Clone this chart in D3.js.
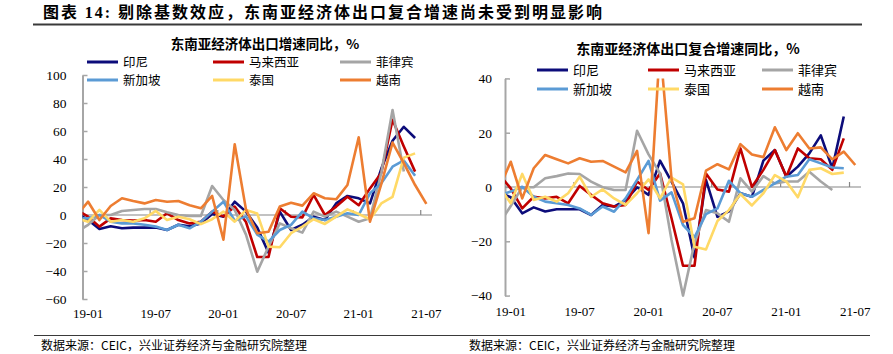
<!DOCTYPE html>
<html>
<head>
<meta charset="utf-8">
<script src="https://cdn.jsdelivr.net/npm/d3@7/dist/d3.min.js"></script>
<style>
  body { margin: 0; background: #fff; }
  svg text { font-family: "Liberation Serif", "Times New Roman", serif; fill: #000; }
  svg .cjk { font-family: "Noto Sans CJK SC", sans-serif; }
</style>
</head>
<body>
<div id="chart"></div>
<script>
// months on the x axis; 18-12 sits left of the axis and is clipped away
const MONTHS = ["18-12",
  "19-01","19-02","19-03","19-04","19-05","19-06","19-07","19-08","19-09","19-10","19-11","19-12",
  "20-01","20-02","20-03","20-04","20-05","20-06","20-07","20-08","20-09","20-10","20-11","20-12",
  "21-01","21-02","21-03","21-04","21-05","21-06","21-07"];
const X_TICKS = ["19-01","19-07","20-01","20-07","21-01","21-07"];

const NAMES  = ["印尼", "马来西亚", "菲律宾", "新加坡", "泰国", "越南"];
const COLORS = ["#0c0c7a", "#c00000", "#a5a5a5", "#5b9bd5", "#ffd966", "#ed7d31"];

// left: export growth yoy, %
const YOY_IDN = [1.2, -3.6, -10, -8, -9.5, -9, -9, -9, -10.7, -7, -8, -6, 0.7, -1.2, 9.5, 2.4, -9, -27, 2.4, -10.7, -7, -1.2, -3.6, 8.3, 13.6, 11.9, 8.3, 33, 53, 63, 55, null];
const YOY_MYS = [3.6, -1.2, -8.3, -2.4, -3.6, -4, -3.6, -4.8, 1.2, -3.6, -6, -4.8, 2.4, -1, 6, -5, -30, -30, 4.8, -1.2, -1.7, 14.3, 0, 6, 13, 7, 19, 30, 68, 49, 31, null];
const YOY_PHL = [-12, -7, 0, 0, 2.9, 3.6, 4.3, 4.3, 1.9, 0, -0.7, -0.7, 20.7, 10.7, 3.6, -14, -40.5, -22.6, -6, -9.5, -12.6, 2.4, -1.2, 2.4, -1.2, -4.8, -2.4, 30, 75, 31, null, null];
const YOY_SGP = [-2.4, -2.4, 0, -4.8, -6, -6, -7, -8.3, -10.7, -7, -9.5, -4.8, 2.4, 9.5, -4, -1, -14, -19, -10.7, -7, 2.4, -2.4, -3.6, -1.2, 1.2, 0, 15.5, 22.6, 34.5, 39, 28, null];
const YOY_THA = [-2.4, -4.8, 3.6, -4.8, -3.6, -4.8, -2.4, 2.9, -3.6, -1.2, -3, -6.5, -3, 2.4, -4.8, 3.6, 1, -22.6, -23, -13, -8.3, -3, -6.4, -1.2, 4, 0.7, -3, 8.3, 13, 41, 44, null];
const YOY_VNM = [0, 9.5, -3.6, 6.4, 12, 10, 8.3, 10.7, 9.5, 10, 7, 4.8, 13.6, -17.6, 50.5, 4, -13, -12, 6, 8.8, 6.7, 15.5, 12, 11.2, 21.4, 55.5, -4.8, 22, 51.7, 37, 21.4, 7.9];

// right: compound export growth, %
const CAGR_IDN = [-2, -3.8, -9.7, -7.5, -9, -8.2, -8.2, -8.2, -10.3, -6.6, -7.2, -4.8, -0.1, -2.9, 9.7, 2, -6, -26, 2.6, -11, -9, -2.3, -3.6, 9.7, 13.6, 3.8, 7.5, 12.4, 19, 6.9, 26, null];
const CAGR_MYS = [4.5, -0.5, -7.9, -3.6, -4.2, -3.6, -6, 0.4, -2.9, -6, -7.2, -6.6, 2, -1.1, 5, -11.5, -29, -29, 5, -0.9, -1.7, 14.2, 0, 6.3, 13.6, 3.8, 14.2, 10.6, 10.2, 6.3, 17.9, null];
const CAGR_PHL = [-13.6, -7, -0.1, -0.1, 3.2, 4, 5, 4.8, 2, -0.1, -1.1, -1.1, 20.7, 12, 5, -19.5, -40, -20.7, -8.5, -9.7, -12.8, 3.2, -1.7, 4, 1.3, 2, 2, 5.6, 2, -1.1, null, null];
const CAGR_SGP = [-2.9, -1.7, 0.1, -3.6, -5.4, -6, -6.6, -7.9, -10.3, -7.2, -9.1, -4.2, 2.6, 9.6, -5, -2, -14, -18.5, -10, -7.9, 2.3, -2.3, -3.6, -1.1, 1.3, 3.8, 4.4, 10.2, 8.7, 7.2, 6.9, null];
const CAGR_THA = [0.2, -6, 4.8, -4.8, -3.6, -5.4, -2.3, 3.8, -3.6, -0.9, -4.2, -6.6, -2.3, 2.8, -4.2, 3.5, 1, -22, -23, -12.5, -8.5, -2.6, -6.8, -2.3, 4.4, 2, -3.8, 6.3, 6.9, 4.8, 5.3, null];
const CAGR_VNM = [-0.5, 9.3, -4.2, 6.9, 11.8, 10.2, 8.7, 10.6, 9.3, 9.6, 7.5, 5.4, 13.3, -17, 52, 3, -12.8, -11.5, 6, 8.4, 6.5, 15.8, 12, 11, 22, 13.6, 19.8, 14.2, 14.6, 10.2, 13, 8.1];

const LEFT_TICKS  = [100, 80, 60, 40, 20, 0, -20, -40, -60];
const RIGHT_TICKS = [40, 20, 0, -20, -40];

const W = 893, H = 354;
const svg = d3.select("#chart").append("svg").attr("width", W).attr("height", H);
svg.append("rect").attr("width", W).attr("height", H).attr("fill", "#fff");

// page header + footer
const head = svg.append("text").attr("class", "cjk").attr("x", 43).attr("y", 18)
    .attr("font-size", 16).attr("font-weight", "bold").attr("letter-spacing", 2);
head.append("tspan").text("图表 ");
head.append("tspan").attr("font-family", "Liberation Serif").text("14: ");
head.append("tspan").text("剔除基数效应，东南亚经济体出口复合增速尚未受到明显影响");
svg.append("line").attr("x1", 33).attr("x2", 862).attr("y1", 24.5).attr("y2", 24.5)
    .attr("stroke", "#3a3a3a").attr("stroke-width", 2);
svg.append("line").attr("x1", 34).attr("x2", 870).attr("y1", 335.5).attr("y2", 335.5)
    .attr("stroke", "#3a3a3a").attr("stroke-width", 1);
[41, 469].forEach(x => svg.append("text").attr("class", "cjk").attr("x", x).attr("y", 350)
    .attr("font-size", 12).text("数据来源：CEIC，兴业证券经济与金融研究院整理"));

function drawPanel(p){
  const g = svg.append("g");
  const step = (p.x1 - p.x0) / (MONTHS.length - 1);
  const x = d3.scalePoint().domain(MONTHS).range([p.x0 - step / 2, p.x1 - step / 2]);
  const y = d3.scaleLinear().domain(p.domain).range([p.yBottom, p.yTop]);

  // chart title
  g.append("text").attr("class", "cjk").attr("x", p.titleX).attr("y", p.titleY)
      .attr("text-anchor", "middle").attr("font-size", p.titleSize).attr("font-weight", "bold")
      .text(p.title);

  // y axis, ticks pointing inward
  const ya = g.append("g").attr("transform", `translate(${p.x0},0)`)
      .call(d3.axisLeft(y).tickValues(p.ticks).tickSizeInner(-5).tickSizeOuter(0).tickPadding(p.labelGap));
  ya.select(".domain").attr("stroke", "#a6a6a6").attr("stroke-width", 2);
  ya.selectAll(".tick line").attr("stroke", "#a6a6a6").attr("stroke-width", 1.5);
  ya.selectAll(".tick text").attr("font-size", 13.5).attr("fill", "#000")
      .attr("font-family", "Liberation Serif");

  // x axis line at zero
  g.append("line").attr("x1", p.x0).attr("x2", p.x1).attr("y1", y(0)).attr("y2", y(0))
      .attr("stroke", "#868686").attr("stroke-width", 1.2);
  g.selectAll(".xtick").data(X_TICKS.slice(1)).join("line").attr("class", "xtick")
      .attr("x1", d => x(d) - step / 2).attr("x2", d => x(d) - step / 2)
      .attr("y1", y(0)).attr("y2", y(0) - 5).attr("stroke", "#868686").attr("stroke-width", 1.2);
  g.selectAll(".xlab").data(X_TICKS).join("text").attr("class", "xlab")
      .attr("x", d => x(d)).attr("y", p.labelY).attr("text-anchor", "middle")
      .attr("font-size", 13).text(d => d);

  // series lines, clipped to the plot area
  const clipId = "clip-" + p.id;
  g.append("clipPath").attr("id", clipId).append("rect")
      .attr("x", p.x0).attr("y", p.yTop).attr("width", p.x1 - p.x0).attr("height", p.yBottom - p.yTop + 4);
  const line = d3.line().defined(d => d[1] != null)
      .x(d => x(d[0])).y(d => y(d[1]));
  const lines = g.append("g").attr("clip-path", `url(#${clipId})`);
  p.series.forEach((vals, i) => {
    lines.append("path").datum(MONTHS.map((m, k) => [m, vals[k]]))
        .attr("d", line).attr("fill", "none").attr("stroke", COLORS[i])
        .attr("stroke-width", 2.6).attr("stroke-linejoin", "round");
  });

  // legend, 3 columns x 2 rows
  NAMES.forEach((name, i) => {
    const lx = p.legendX[i % 3], ly = p.legendY[Math.floor(i / 3)];
    g.append("line").attr("x1", lx).attr("x2", lx + 31).attr("y1", ly).attr("y2", ly)
        .attr("stroke", COLORS[i]).attr("stroke-width", 3);
    g.append("text").attr("class", "cjk").attr("x", lx + 36).attr("y", ly + 4.5)
        .attr("font-size", p.legendSize).text(name);
  });
}

drawPanel({
  id: "yoy", x0: 82.5, x1: 432, yTop: 75, yBottom: 299, domain: [-60, 100],
  ticks: LEFT_TICKS, labelGap: 16, labelY: 318,
  title: "东南亚经济体出口增速同比，%", titleX: 265, titleY: 49, titleSize: 13.5,
  legendX: [87, 213, 340], legendY: [62, 80], legendSize: 12.5,
  series: [YOY_IDN, YOY_MYS, YOY_PHL, YOY_SGP, YOY_THA, YOY_VNM]
});

drawPanel({
  id: "cagr", x0: 505, x1: 861, yTop: 78.4, yBottom: 295.6, domain: [-40, 40],
  ticks: RIGHT_TICKS, labelGap: 13, labelY: 316,
  title: "东南亚经济体出口复合增速同比，%", titleX: 688, titleY: 54, titleSize: 14,
  legendX: [537, 648, 762], legendY: [70, 89], legendSize: 13,
  series: [CAGR_IDN, CAGR_MYS, CAGR_PHL, CAGR_SGP, CAGR_THA, CAGR_VNM]
});
</script>
</body>
</html>
